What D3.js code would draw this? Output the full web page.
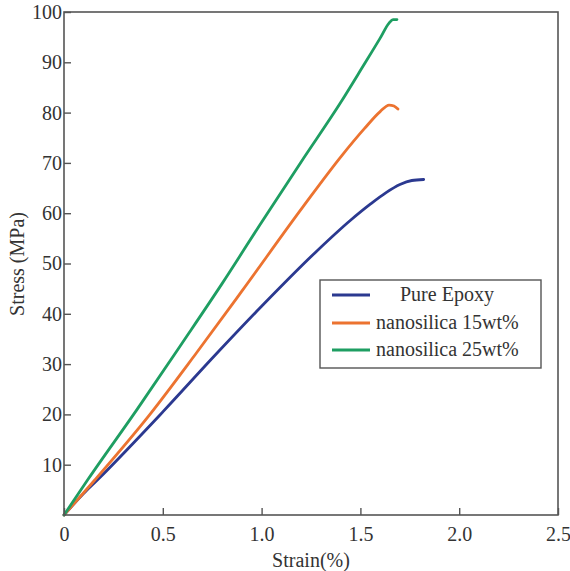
<!DOCTYPE html>
<html><head><meta charset="utf-8">
<script src="https://cdn.jsdelivr.net/npm/d3@7"></script>
<style>body{margin:0;background:#fff}svg{display:block}text{font-family:"Liberation Serif","Times New Roman",serif;fill:#333}</style>
</head><body><svg id="c" width="570" height="571"></svg>
<script>
const xTicks = [0, 0.5, 1.0, 1.5, 2.0, 2.5];
const yTicks = [10, 20, 30, 40, 50, 60, 70, 80, 90, 100];
const seriesNames = ["Pure Epoxy", "nanosilica 15wt%", "nanosilica 25wt%"];
const seriesColors = ["#2b3990", "#ec7330", "#1e9e62"];
const strainPure = [0,0.1,0.17,0.5,0.77,1.0,1.28,1.45,1.55,1.63,1.7,1.76,1.82];
const stressPure = [0,4.3,7,20.5,32,41.5,52.5,58.6,61.8,64.1,65.7,66.5,66.7];
const strain15 = [0,0.157,0.435,0.67,0.9,1.21,1.405,1.52,1.6,1.645,1.67,1.69];
const stress15 = [0,7,20,32.2,44.5,61.3,71.4,76.8,80.2,81.5,81.3,80.7];
const strain25 = [0,0.12,0.37,0.6,0.8,1.0,1.2,1.4,1.51,1.6,1.645,1.665,1.685];
const stress25 = [0,7,21,34.3,46,58.2,70.2,82,89,94.8,97.8,98.5,98.5];

const svg = d3.select("#c");
const L=64, R=558, T=12, B=515;
const x = d3.scaleLinear().domain([0,2.5]).range([L,R]);
const y = d3.scaleLinear().domain([0,100]).range([B,T]);

const series = [
  strainPure.map((s,i)=>[s,stressPure[i]]),
  strain15.map((s,i)=>[s,stress15[i]]),
  strain25.map((s,i)=>[s,stress25[i]])
];
const line = d3.line().x(d=>x(d[0])).y(d=>y(d[1])).curve(d3.curveMonotoneX);
series.forEach((d,i)=>{
  svg.append("path").attr("d",line(d)).attr("fill","none")
    .attr("stroke",seriesColors[i]).attr("stroke-width",2.8).attr("stroke-linejoin","round").attr("stroke-linecap","round");
});

// frame
svg.append("rect").attr("x",L).attr("y",T).attr("width",R-L).attr("height",B-T)
  .attr("fill","none").attr("stroke","#555").attr("stroke-width",1.6);

// x axis
const xa = svg.append("g").attr("transform",`translate(0,${B})`)
  .call(d3.axisBottom(x).tickValues(xTicks).tickSize(-7).tickFormat((d,i)=> d===0?"0":d3.format(".1f")(d)));
xa.select(".domain").remove();
xa.selectAll(".tick line").attr("stroke","#555").attr("stroke-width",1.4);
xa.selectAll(".tick text").attr("y",12).attr("font-size",20).style("fill","#333")
  .style("font-family","Liberation Serif");

// y axis
const ya = svg.append("g").attr("transform",`translate(${L},0)`)
  .call(d3.axisLeft(y).tickValues(yTicks).tickSize(-7).tickFormat(d3.format("d")));
ya.select(".domain").remove();
ya.selectAll(".tick line").attr("stroke","#555").attr("stroke-width",1.4);
ya.selectAll(".tick text").attr("x",-2).attr("font-size",20).style("fill","#333")
  .style("font-family","Liberation Serif");

svg.append("text").attr("x",311).attr("y",567).attr("text-anchor","middle").attr("font-size",20).text("Strain(%)");
svg.append("text").attr("transform","translate(24,264) rotate(-90)").attr("text-anchor","middle").attr("font-size",20).text("Stress (MPa)");

// legend
const lg = svg.append("g");
lg.append("rect").attr("x",320).attr("y",280).attr("width",221).attr("height",88)
  .attr("fill","#fff").attr("stroke","#555").attr("stroke-width",1.4);
const ly = [295, 323, 350];
const lx = [400, 376, 376];
seriesNames.forEach((n,i)=>{
  lg.append("line").attr("x1",332).attr("x2",370).attr("y1",ly[i]).attr("y2",ly[i])
    .attr("stroke",seriesColors[i]).attr("stroke-width",3);
  lg.append("text").attr("x",lx[i]).attr("y",ly[i]+6).attr("font-size",20).text(n);
});
</script></body></html>
